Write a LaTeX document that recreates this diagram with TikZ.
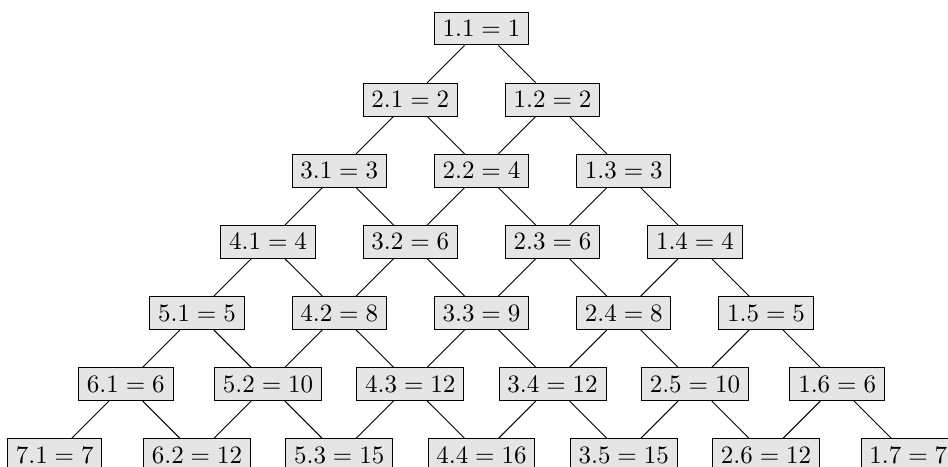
\documentclass[tikz,border=0pt]{standalone}
\tikzset{cell/.style={draw, fill=black!10, line width=0.4pt},
         link/.style={draw, line width=0.4pt}}
\begin{document}
\begin{tikzpicture}
\useasboundingbox (-192.6pt,11.4pt) rectangle (186.6pt,-175.4pt);
\foreach \k in {1,...,7}{
  \foreach \m in {1,...,\k}{
    \pgfmathtruncatemacro\a{\k+1-\m}
    \pgfmathtruncatemacro\p{\a*\m}
    \pgfmathtruncatemacro\xx{2*\m-\k-1}
    \node[cell] (n-\k-\m) at (\xx, {-(\k-1)}) {$\a.\m=\p$};
  }
}
\foreach \k in {1,...,6}{
  \foreach \m in {1,...,\k}{
    \pgfmathtruncatemacro\kk{\k+1}
    \pgfmathtruncatemacro\mm{\m+1}
    \path[link] (n-\k-\m) -- (n-\kk-\m);
    \path[link] (n-\k-\m) -- (n-\kk-\mm);
  }
}
\end{tikzpicture}
\end{document}
